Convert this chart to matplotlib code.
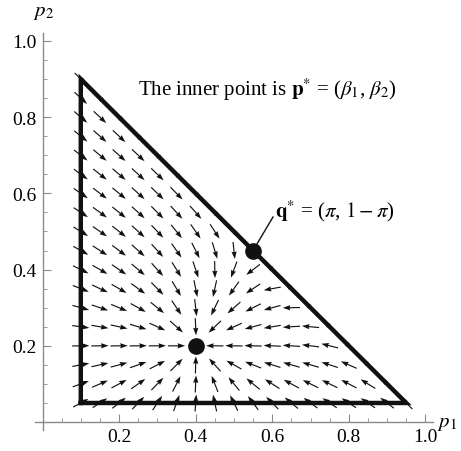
import matplotlib

matplotlib.use("Agg")
import matplotlib.pyplot as plt
import numpy as np

plt.rcParams["font.family"] = ["Liberation Serif", "DejaVu Serif"]
plt.rcParams["mathtext.fontset"] = "stix"

AXIS_GRAY = "#8a8a8a"

# simplex corners (p1, p2)
triangle_p1 = [0.1, 0.95, 0.1, 0.1]
triangle_p2 = [0.05, 0.05, 0.9, 0.05]

# equilibria
p_star = (0.4, 0.2)   # inner point (beta1, beta2)
q_star = (0.55, 0.45)  # edge point (pi, 1 - pi)

# grid of arrow positions
grid_p1 = [0.1, 0.15, 0.2, 0.25, 0.3, 0.35, 0.4, 0.45, 0.5, 0.55,
           0.6, 0.65, 0.7, 0.75, 0.8, 0.85, 0.9, 0.95]
grid_p2 = [0.05, 0.1, 0.15, 0.2, 0.25, 0.3, 0.35, 0.4, 0.45, 0.5,
           0.55, 0.6, 0.65, 0.7, 0.75, 0.8, 0.85, 0.9]

# field parameters: pull to p* away from the edge, flow to q* along it
edge_gain = 2.0
p1_weight = 0.3

tick_major = [0.2, 0.4, 0.6, 0.8, 1.0]
tick_labels = ["0.2", "0.4", "0.6", "0.8", "1.0"]
tick_minor = [0.05, 0.1, 0.15, 0.25, 0.3, 0.35, 0.45, 0.5, 0.55,
              0.65, 0.7, 0.75, 0.85, 0.9, 0.95]


def field(p1, p2):
    u = 1.0 - p1 - p2
    c = edge_gain * ((p1_weight * (p1 - p_star[0])) ** 2 + (p2 - p_star[1]) ** 2)
    v1 = u * (p_star[0] - p1) + c * (q_star[0] - p1)
    v2 = u * (p_star[1] - p2) + c * (q_star[1] - p2)
    return v1, v2


fig = plt.figure(figsize=(4.61, 4.52), dpi=100)
ax = fig.add_axes([0, 0, 1, 1])
ax.set_xlim(-0.111, 1.093)
ax.set_ylim(-0.076, 1.110)

P1, P2 = np.meshgrid(grid_p1, grid_p2)
P1 = P1.ravel()
P2 = P2.ravel()
keep = P1 + P2 <= 1.0 + 1e-9
P1, P2 = P1[keep], P2[keep]
V1, V2 = field(P1, P2)
mag = np.hypot(V1, V2)
ok = mag > 1e-9
P1, P2, V1, V2, mag = P1[ok], P2[ok], V1[ok], V2[ok], mag[ok]
arrow_len = 0.045
ax.quiver(P1, P2, V1 / mag * arrow_len, V2 / mag * arrow_len,
          angles="xy", scale_units="xy", scale=1, pivot="mid",
          width=0.0025, headwidth=4.5, headlength=6.5, headaxislength=6,
          color="#111111", zorder=2)

ax.plot(triangle_p1, triangle_p2, color="#111111", lw=3.2,
        solid_joinstyle="miter", zorder=3)
ax.plot([p_star[0], q_star[0]], [p_star[1], q_star[1]], "o",
        color="#111111", ms=11, zorder=4)

# spines through the origin
for side in ["top", "right"]:
    ax.spines[side].set_visible(False)
ax.spines["left"].set_position(("data", 0))
ax.spines["bottom"].set_position(("data", 0))
ax.spines["left"].set_bounds(-0.02, 1.02)
ax.spines["bottom"].set_bounds(-0.02, 1.02)
for side in ["left", "bottom"]:
    ax.spines[side].set_color(AXIS_GRAY)
    ax.spines[side].set_linewidth(1.0)

ax.set_xticks(tick_major)
ax.set_xticklabels(tick_labels)
ax.set_yticks(tick_major)
ax.set_yticklabels(tick_labels)
ax.set_xticks(tick_minor, minor=True)
ax.set_yticks(tick_minor, minor=True)
ax.tick_params(which="major", direction="in", length=6, width=0.8,
               color=AXIS_GRAY, labelsize=14, pad=4)
ax.tick_params(which="minor", direction="in", length=3, width=0.6,
               color=AXIS_GRAY)

ax.text(0.003, 1.078, r"$p_2$", fontsize=15, ha="center", va="center")
ax.text(1.03, 0.0, r"$p_1$", fontsize=15, ha="left", va="center")

ax.text(0.249, 0.874, r"The inner point is $\mathbf{p}^{*}$ = ($\beta_1$, $\beta_2$)",
        fontsize=15, ha="left", va="center")
ax.plot([q_star[0], 0.602], [q_star[1], 0.538], color="#111111", lw=1.0, zorder=4)
ax.text(0.607, 0.555, r"$\mathbf{q}^{*}$ = ($\pi$, $1 - \pi$)",
        fontsize=15, ha="left", va="center")

fig.savefig("out.png", dpi=100)
